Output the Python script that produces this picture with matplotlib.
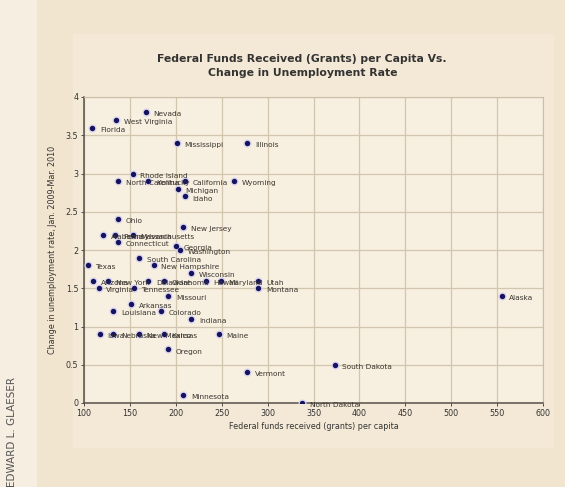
import matplotlib
matplotlib.use('Agg')
import matplotlib.pyplot as plt
from matplotlib.patches import Rectangle


states = ['Nevada', 'West Virginia', 'Florida', 'Mississippi', 'Illinois',
          'Rhode Island', 'North Carolina', 'Kentucky', 'California', 'Wyoming',
          'Michigan', 'Idaho', 'Ohio', 'New Jersey', 'Alabama', 'Pennsylvania',
          'Massachusetts', 'Connecticut', 'Georgia', 'Washington',
          'South Carolina', 'Texas', 'New Hampshire', 'Wisconsin', 'Arizona',
          'New York', 'Delaware', 'Oklahoma', 'Hawaii', 'Maryland', 'Utah',
          'Virginia', 'Tennessee', 'Montana', 'Missouri', 'Alaska', 'Arkansas',
          'Louisiana', 'Colorado', 'Indiana', 'Iowa', 'Nebraska', 'New Mexico',
          'Kansas', 'Maine', 'Oregon', 'South Dakota', 'Vermont', 'Minnesota',
          'North Dakota']
grants = [167, 135, 109, 201, 278,
          153, 137, 170, 210, 263,
          202, 210, 137, 208, 121, 134,
          153, 137, 200, 205,
          160, 104, 176, 217, 110,
          126, 170, 187, 233, 249, 290,
          116, 154, 290, 192, 555, 151,
          132, 184, 217, 117, 132, 160,
          187, 247, 191, 373, 278, 208,
          338]
unemp_change = [3.8, 3.7, 3.6, 3.4, 3.4,
                3.0, 2.9, 2.9, 2.9, 2.9,
                2.8, 2.7, 2.4, 2.3, 2.2, 2.2,
                2.2, 2.1, 2.05, 2.0,
                1.9, 1.8, 1.8, 1.7, 1.6,
                1.6, 1.6, 1.6, 1.6, 1.6, 1.6,
                1.5, 1.5, 1.5, 1.4, 1.4, 1.3,
                1.2, 1.2, 1.1, 0.9, 0.9, 0.9,
                0.9, 0.9, 0.7, 0.5, 0.4, 0.1,
                0.0]

x_ticks = [100, 150, 200, 250, 300, 350, 400, 450, 500, 550, 600]
y_ticks = [0, 0.5, 1, 1.5, 2, 2.5, 3, 3.5, 4]
y_tick_labels = ['0', '0.5', '1', '1.5', '2', '2.5', '3', '3.5', '4']

fig = plt.figure(figsize=(5.65, 4.87), dpi=100)
fig.patch.set_facecolor('#f1e5cf')

# lighter strip on the left and the chart "card"
fig.patches.append(Rectangle((0, 0), 0.065, 1, transform=fig.transFigure,
                             facecolor='#f6eee0', edgecolor='none', zorder=-10))
fig.patches.append(Rectangle((0.13, 0.08), 0.85, 0.85, transform=fig.transFigure,
                             facecolor='#f4e9d6', edgecolor='none', zorder=-10))

fig.text(0.022, 0.0, 'EDWARD L. GLAESER', rotation=90, fontsize=7.5,
         color='#555555', ha='center', va='bottom')

ax = fig.add_axes([84 / 565, 1 - 403 / 487, 459 / 565, 306 / 487])
ax.set_facecolor('#f7efdf')

ax.scatter(grants, unemp_change, s=34, color='#d8d4ee', zorder=3, linewidths=0)
ax.scatter(grants, unemp_change, s=15, color='#15135e', zorder=4, linewidths=0)
for name, gx, gy in zip(states, grants, unemp_change):
    ax.annotate(name, (gx, gy), xytext=(5.5, -1.5), textcoords='offset points',
                fontsize=5.3, color='#3a3630', va='center', zorder=5)

ax.set_xlim(100, 600)
ax.set_ylim(0, 4)
ax.set_xticks(x_ticks)
ax.set_yticks(y_ticks)
ax.set_yticklabels(y_tick_labels)
ax.grid(True, color='#d3c6ae', linewidth=0.9)
ax.set_axisbelow(True)
ax.tick_params(labelsize=5.8, colors='#333333', length=2, width=0.6, pad=2)

for side in ['left', 'bottom']:
    ax.spines[side].set_color('#555048')
    ax.spines[side].set_linewidth(1.1)
for side in ['top', 'right']:
    ax.spines[side].set_color('#cbbfa8')
    ax.spines[side].set_linewidth(0.8)

ax.set_xlabel('Federal funds received (grants) per capita', fontsize=5.8,
              color='#333333', labelpad=3)
ax.set_ylabel('Change in unemployment rate, Jan. 2009-Mar. 2010', fontsize=5.8,
              color='#333333', labelpad=6)

fig.text(0.535, 1 - 66 / 487, 'Federal Funds Received (Grants) per Capita Vs.\nChange in Unemployment Rate',
         fontsize=7.8, fontweight='bold', color='#333333', ha='center', va='center',
         linespacing=1.6)

fig.savefig('out.png', dpi=100, facecolor=fig.get_facecolor())
